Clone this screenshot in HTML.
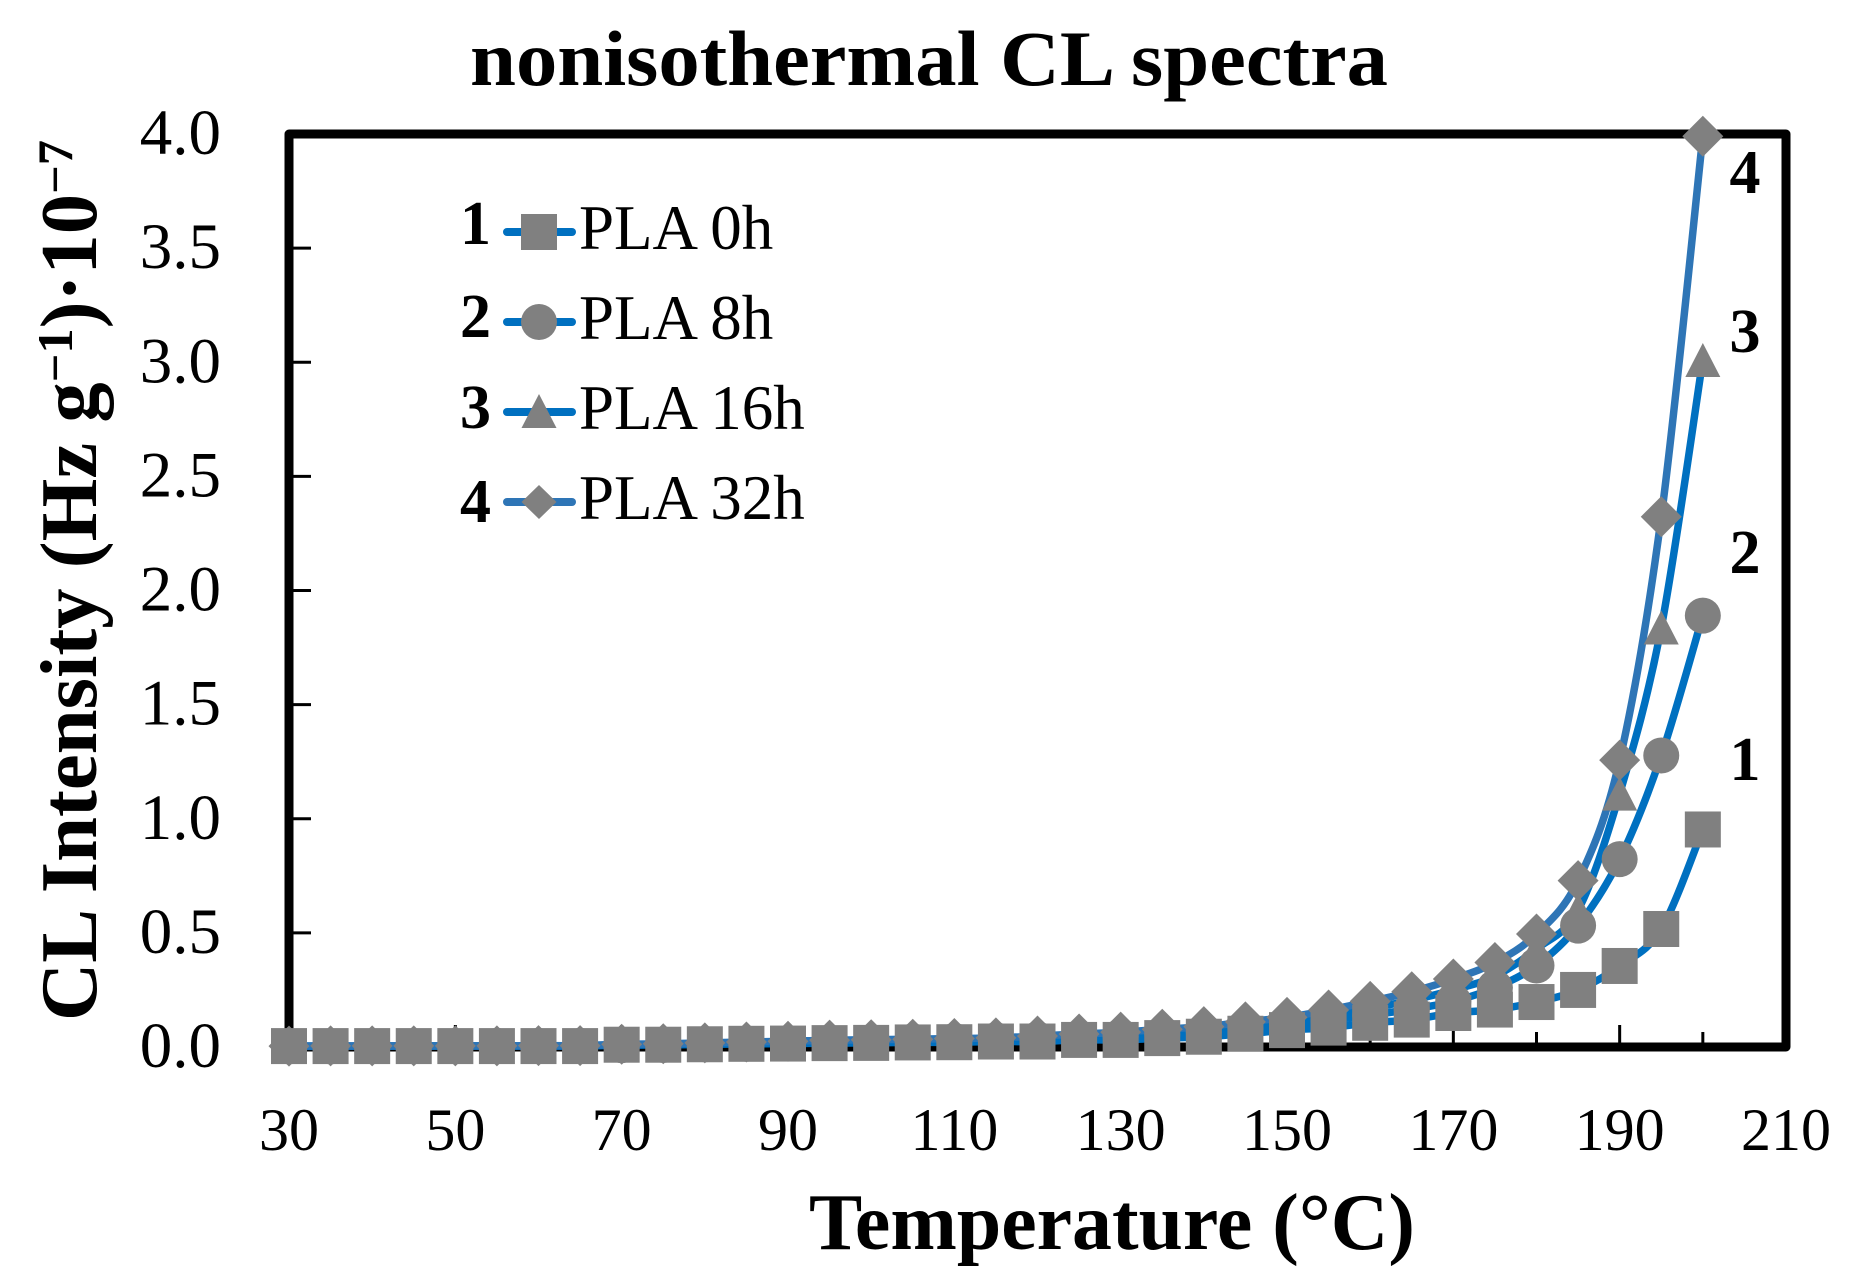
<!DOCTYPE html>
<html lang="en">
<head>
<meta charset="utf-8">
<title>nonisothermal CL spectra</title>
<style>
html,body{margin:0;padding:0;background:#fff;}
svg{display:block;}
text{font-family:"Liberation Serif",serif;fill:#000;}
</style>
</head>
<body>
<svg id="chart" xmlns="http://www.w3.org/2000/svg" width="1857" height="1284" viewBox="0 0 1857 1284">
  <rect x="0" y="0" width="1857" height="1284" fill="#fff"/>
  <text x="470" y="85" font-size="78" font-weight="bold" textLength="918" lengthAdjust="spacingAndGlyphs">nonisothermal CL spectra</text>
  <rect x="289" y="134" width="1497" height="913" fill="none" stroke="#000" stroke-width="9" stroke-linejoin="round"/>
  <g id="ticks"></g>
  <g id="series"></g>
  <text transform="translate(96,1021) rotate(-90)" x="0" y="0" font-size="80" font-weight="bold" textLength="881" lengthAdjust="spacingAndGlyphs">CL Intensity (Hz g<tspan font-size="50" dy="-24">−1</tspan><tspan dy="24">)·10</tspan><tspan font-size="50" dy="-24">−7</tspan></text>
  <text x="809" y="1249" font-size="80" font-weight="bold" textLength="606" lengthAdjust="spacingAndGlyphs">Temperature (°C)</text>

  <g font-size="62" font-weight="bold" text-anchor="middle">
    <text x="1745" y="193">4</text>
    <text x="1745" y="352">3</text>
    <text x="1745" y="573">2</text>
    <text x="1745" y="780">1</text>
  </g>

  <g>
    <g>
      <text x="460" y="244" font-size="62" font-weight="bold">1</text>
      <line x1="507" y1="232" x2="572" y2="232" stroke="#0070c0" stroke-width="8" stroke-linecap="round"/>
      <rect x="521" y="214" width="36" height="36" fill="#808080"/>
      <text x="579" y="249" font-size="63">PLA 0h</text>
    </g>
    <g>
      <text x="460" y="337" font-size="62" font-weight="bold">2</text>
      <line x1="507" y1="322" x2="572" y2="322" stroke="#0070c0" stroke-width="8" stroke-linecap="round"/>
      <circle cx="539" cy="322" r="18" fill="#808080"/>
      <text x="579" y="339" font-size="63">PLA 8h</text>
    </g>
    <g>
      <text x="460" y="428" font-size="62" font-weight="bold">3</text>
      <line x1="507" y1="412" x2="572" y2="412" stroke="#0070c0" stroke-width="8" stroke-linecap="round"/>
      <polygon points="539,394 556.5,428 521.5,428" fill="#808080"/>
      <text x="579" y="429" font-size="63">PLA 16h</text>
    </g>
    <g>
      <text x="460" y="522" font-size="62" font-weight="bold">4</text>
      <line x1="507" y1="502" x2="572" y2="502" stroke="#2e75b6" stroke-width="8" stroke-linecap="round"/>
      <polygon points="539,485 556.5,502 539,519 521.5,502" fill="#808080"/>
      <text x="579" y="519" font-size="63">PLA 32h</text>
    </g>
  </g>
</svg>
<script>
const temperatures = [30,35,40,45,50,55,60,65,70,75,80,85,90,95,100,105,110,115,120,125,130,135,140,145,150,155,160,165,170,175,180,185,190,195,200];
const pla0h = [.004,.004,.004,.004,.004,.004,.004,.004,.01,.01,.012,.014,.015,.017,.018,.02,.021,.024,.024,.031,.031,.039,.045,.058,.074,.085,.106,.12,.149,.164,.197,.25,.355,.517,.953];
const pla8h = [.003,.003,.004,.004,.004,.005,.005,.005,.008,.009,.012,.014,.017,.02,.022,.025,.027,.03,.034,.04,.046,.055,.065,.08,.095,.115,.14,.165,.2,.26,.357,.532,.823,1.277,1.89];
const pla16h = [.004,.004,.004,.005,.005,.005,.005,.006,.01,.011,.014,.016,.02,.024,.026,.029,.032,.035,.04,.047,.055,.065,.077,.095,.112,.137,.17,.205,.25,.31,.43,.6,1.11,1.838,3.01];
const pla32h = [.004,.005,.005,.005,.005,.005,.006,.006,.012,.014,.018,.022,.025,.03,.032,.034,.037,.04,.048,.057,.065,.078,.089,.11,.13,.162,.2,.242,.298,.37,.495,.729,1.257,2.323,3.99];
const yTickLabels = ["0.0","0.5","1.0","1.5","2.0","2.5","3.0","3.5","4.0"];
const xTickLabels = ["30","50","70","90","110","130","150","170","190","210"];
const xMinorTicks = [40,60,80,100,120,140,160,180,200];

const NS = "http://www.w3.org/2000/svg";
const X0 = 289, X1 = 1786, Y0 = 1047, Y1 = 134;
const xScale = t => X0 + (t - 30) * (X1 - X0) / 180;
const yScale = v => Y0 - v * (Y0 - Y1) / 4;

const ticksG = document.getElementById("ticks");
const seriesG = document.getElementById("series");

function make(tag, parent) {
  const e = document.createElementNS(NS, tag);
  parent.appendChild(e);
  return e;
}

yTickLabels.forEach(label => {
  const y = yScale(parseFloat(label));
  if (parseFloat(label) > 0 && parseFloat(label) < 4) {
    const t = make("line", ticksG);
    
    
    t.setAttribute("x1", X0 + 4);
    t.setAttribute("x2", X0 + 22);
    t.setAttribute("y1", y);
    t.setAttribute("y2", y);
    t.setAttribute("stroke", "#000");
    t.setAttribute("stroke-width", "3");
  }
  const l = make("text", ticksG);
  
  
  l.setAttribute("x", 221);
  l.setAttribute("y", y + 20);
  l.setAttribute("font-size", "65");
  l.setAttribute("text-anchor", "end");
  l.textContent = label;
});

xTickLabels.forEach(label => {
  const x = xScale(parseFloat(label));
  if (parseFloat(label) > 30 && parseFloat(label) < 210) {
    const t = make("line", ticksG);
    
    
    t.setAttribute("x1", x);
    t.setAttribute("x2", x);
    t.setAttribute("y1", Y0 - 4);
    t.setAttribute("y2", Y0 - 22);
    t.setAttribute("stroke", "#000");
    t.setAttribute("stroke-width", "3");
  }
  const l = make("text", ticksG);
  
  
  l.setAttribute("x", x);
  l.setAttribute("y", 1150);
  l.setAttribute("font-size", "60");
  l.setAttribute("text-anchor", "middle");
  l.textContent = label;
});

xMinorTicks.forEach(v => {
  const x = xScale(v);
  const t = make("line", ticksG);
  
  
  t.setAttribute("x1", x);
  t.setAttribute("x2", x);
  t.setAttribute("y1", Y0 - 4);
  t.setAttribute("y2", Y0 - 15);
  t.setAttribute("stroke", "#000");
  t.setAttribute("stroke-width", "3");
});

function smoothPath(values) {
  const pts = values.map((v, i) => [xScale(temperatures[i]), yScale(v)]);
  let d = "M" + pts[0][0].toFixed(1) + " " + pts[0][1].toFixed(1);
  for (let i = 0; i < pts.length - 1; i++) {
    const p0 = pts[Math.max(0, i - 1)], p1 = pts[i], p2 = pts[i + 1], p3 = pts[Math.min(pts.length - 1, i + 2)];
    const c1x = p1[0] + (p2[0] - p0[0]) / 6, c1y = p1[1] + (p2[1] - p0[1]) / 6;
    const c2x = p2[0] - (p3[0] - p1[0]) / 6, c2y = p2[1] - (p3[1] - p1[1]) / 6;
    d += "C" + c1x.toFixed(1) + " " + c1y.toFixed(1) + " " + c2x.toFixed(1) + " " + c2y.toFixed(1) + " " + p2[0].toFixed(1) + " " + p2[1].toFixed(1);
  }
  return d;
}

function drawLine(values, color, name) {
  const p = make("path", seriesG);
  
  
  p.setAttribute("d", smoothPath(values));
  p.setAttribute("fill", "none");
  p.setAttribute("stroke", color);
  p.setAttribute("stroke-width", "7.5");
}

drawLine(pla0h, "#0070c0", "line-pla-0h");
drawLine(pla8h, "#0070c0", "line-pla-8h");
drawLine(pla16h, "#0070c0", "line-pla-16h");
drawLine(pla32h, "#2e75b6", "line-pla-32h");

pla32h.forEach((v, i) => {
  const x = xScale(temperatures[i]), y = yScale(v);
  const m = make("polygon", seriesG);
  
  
  m.setAttribute("points", x + "," + (y - 20.5) + " " + (x + 20.5) + "," + y + " " + x + "," + (y + 20.5) + " " + (x - 20.5) + "," + y);
  m.setAttribute("fill", "#808080");
});
pla16h.forEach((v, i) => {
  const x = xScale(temperatures[i]), y = yScale(v);
  const m = make("polygon", seriesG);
  
  
  m.setAttribute("points", x + "," + (y - 17) + " " + (x + 17.5) + "," + (y + 17) + " " + (x - 17.5) + "," + (y + 17));
  m.setAttribute("fill", "#808080");
});
pla8h.forEach((v, i) => {
  const m = make("circle", seriesG);
  
  
  m.setAttribute("cx", xScale(temperatures[i]));
  m.setAttribute("cy", yScale(v));
  m.setAttribute("r", "18");
  m.setAttribute("fill", "#808080");
});
pla0h.forEach((v, i) => {
  const m = make("rect", seriesG);
  
  
  m.setAttribute("x", xScale(temperatures[i]) - 18);
  m.setAttribute("y", yScale(v) - 18);
  m.setAttribute("width", "36");
  m.setAttribute("height", "36");
  m.setAttribute("fill", "#808080");
});
</script>
</body>
</html>
